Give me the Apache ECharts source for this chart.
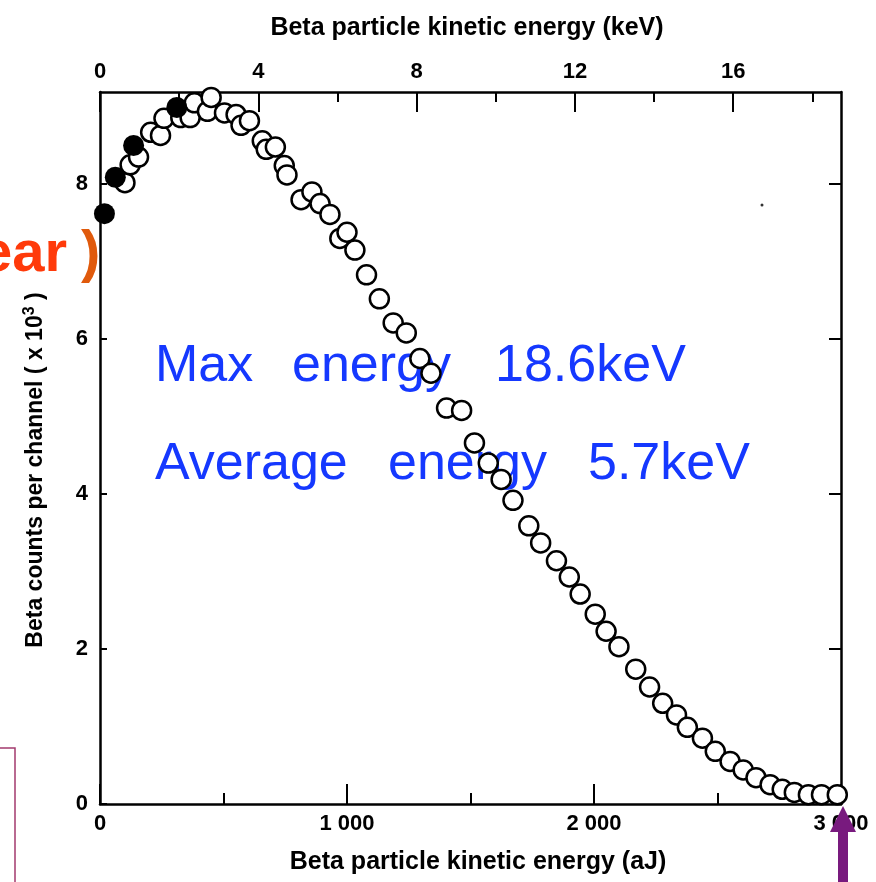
<!DOCTYPE html>
<html>
<head>
<meta charset="utf-8">
<title>Beta spectrum</title>
<script src="https://cdn.jsdelivr.net/npm/echarts@6/dist/echarts.min.js"></script>
<style>
  html, body { margin: 0; padding: 0; background: #fff; }
  #chart { width: 876px; height: 882px; }
</style>
</head>
<body>
<div id="chart"></div>
<script>
// open circles: energy (aJ) / counts per channel (x10^3)
const openEnergy = [101, 122, 156, 205, 245, 259, 327, 365, 382, 435, 450, 504, 551, 571, 605,
  657, 673, 710, 746, 757, 814, 858, 891, 931, 971, 1000, 1032, 1079, 1131, 1187,
  1240, 1295, 1340, 1403, 1464, 1516, 1572, 1624, 1672, 1736, 1784, 1848, 1900, 1944,
  2005, 2049, 2101, 2169, 2225, 2278, 2334, 2378, 2439, 2491, 2551, 2604, 2656, 2713,
  2762, 2811, 2868, 2921, 2985];
const openCounts = [8.02, 8.25, 8.35, 8.67, 8.63, 8.85, 8.86, 8.86, 9.05, 8.94, 9.12, 8.92, 8.90, 8.76, 8.82,
  8.56, 8.45, 8.48, 8.24, 8.12, 7.80, 7.90, 7.75, 7.61, 7.30, 7.38, 7.15, 6.83, 6.52, 6.21,
  6.08, 5.75, 5.56, 5.11, 5.08, 4.66, 4.40, 4.19, 3.92, 3.59, 3.37, 3.14, 2.93, 2.71,
  2.45, 2.23, 2.03, 1.74, 1.51, 1.30, 1.15, 0.99, 0.85, 0.68, 0.55, 0.44, 0.34, 0.25,
  0.19, 0.15, 0.12, 0.12, 0.12];
// filled circles
const solidEnergy = [18, 62, 136, 311];
const solidCounts = [7.62, 8.09, 8.50, 8.99];

const countTicks = [0, 2, 4, 6, 8];
const keVTicks = [0, 4, 8, 12, 16];
const keVMinorTicks = [2, 6, 10, 14, 18];
const AJ_PER_KEV = 160.218;

const font = 'Liberation Sans';
const lineStyle = { color: '#000', width: 2.5 };
const tickStyle = { color: '#000', width: 2 };

function pairs(xs, ys) {
  return xs.map((x, i) => [x, ys[i]]);
}

const chart = echarts.init(document.getElementById('chart'));

const option = {
  animation: false,
  backgroundColor: '#fff',
  grid: { left: 100, right: 35, top: 92, bottom: 78 },
  xAxis: [
    {
      // bottom: aJ
      type: 'value',
      position: 'bottom',
      min: 0,
      max: 3000,
      interval: 1000,
      axisLine: { show: true, onZero: false, lineStyle: lineStyle },
      axisTick: { show: true, inside: true, length: 20, lineStyle: tickStyle },
      minorTick: { show: true, splitNumber: 2, length: 11, lineStyle: tickStyle },
      splitLine: { show: false },
      axisLabel: {
        margin: 9,
        color: '#000',
        fontFamily: font,
        fontWeight: 'bold',
        fontSize: 22,
        formatter: v => (v === 0 ? '0' : v / 1000 + ' 000'),
      },
    },
    {
      // top: keV, major ticks
      type: 'value',
      position: 'top',
      min: 0,
      max: 3000 / AJ_PER_KEV,
      axisLine: { show: true, onZero: false, lineStyle: lineStyle },
      axisTick: { show: true, inside: true, length: 20, customValues: keVTicks, lineStyle: tickStyle },
      splitLine: { show: false },
      axisLabel: {
        customValues: keVTicks,
        margin: 9,
        color: '#000',
        fontFamily: font,
        fontWeight: 'bold',
        fontSize: 22,
        formatter: v => String(Math.round(v)),
      },
    },
    {
      // top: keV, minor ticks
      type: 'value',
      position: 'top',
      min: 0,
      max: 3000 / AJ_PER_KEV,
      axisLine: { show: false, onZero: false },
      axisTick: { show: true, inside: true, length: 10, customValues: keVMinorTicks, lineStyle: tickStyle },
      splitLine: { show: false },
      axisLabel: { show: false },
    },
  ],
  yAxis: [
    {
      type: 'value',
      position: 'left',
      min: 0,
      max: 9.19,
      axisLine: { show: true, onZero: false, lineStyle: lineStyle },
      axisTick: { show: true, inside: true, length: 7, customValues: countTicks, lineStyle: tickStyle },
      splitLine: { show: false },
      axisLabel: {
        customValues: countTicks,
        margin: 12,
        color: '#000',
        fontFamily: font,
        fontWeight: 'bold',
        fontSize: 22,
      },
    },
    {
      type: 'value',
      position: 'right',
      min: 0,
      max: 9.19,
      axisLine: { show: true, onZero: false, lineStyle: lineStyle },
      axisTick: { show: true, inside: true, length: 12, customValues: [2, 4, 6, 8], lineStyle: tickStyle },
      splitLine: { show: false },
      axisLabel: { show: false },
    },
  ],
  series: [
    {
      name: 'open',
      type: 'scatter',
      xAxisIndex: 0,
      yAxisIndex: 0,
      symbol: 'circle',
      symbolSize: 19,
      itemStyle: { color: '#fff', borderColor: '#000', borderWidth: 2.5, opacity: 1 },
      data: pairs(openEnergy, openCounts),
      z: 3,
    },
    {
      name: 'solid',
      type: 'scatter',
      xAxisIndex: 0,
      yAxisIndex: 0,
      symbol: 'circle',
      symbolSize: 21,
      itemStyle: { color: '#000', opacity: 1 },
      data: pairs(solidEnergy, solidCounts),
      z: 4,
    },
  ],
  graphic: [
    {
      type: 'text',
      x: 467,
      y: 28,
      style: {
        text: 'Beta particle kinetic energy (keV)',
        font: 'bold 25px "Liberation Sans"',
        fill: '#000',
        textAlign: 'center',
        textVerticalAlign: 'middle',
      },
    },
    {
      type: 'text',
      x: 478,
      y: 862,
      style: {
        text: 'Beta particle kinetic energy (aJ)',
        font: 'bold 25px "Liberation Sans"',
        fill: '#000',
        textAlign: 'center',
        textVerticalAlign: 'middle',
      },
    },
    {
      type: 'text',
      x: 36,
      y: 470,
      rotation: Math.PI / 2,
      style: {
        text: 'Beta counts per channel ( x 10{sup|3} )',
        font: 'bold 23px "Liberation Sans"',
        fill: '#000',
        textAlign: 'center',
        textVerticalAlign: 'middle',
        rich: {
          sup: { fontSize: 16, fontWeight: 'bold', fontFamily: font, verticalAlign: 'bottom', padding: [0, 0, 12, 0] },
        },
      },
    },
    // blue notes
    { type: 'text', x: 155, y: 367, style: { text: 'Max', font: '52px "Liberation Sans"', fill: '#1538ff', textVerticalAlign: 'middle' } },
    { type: 'text', x: 292, y: 367, style: { text: 'energy', font: '52px "Liberation Sans"', fill: '#1538ff', textVerticalAlign: 'middle' } },
    { type: 'text', x: 495, y: 367, style: { text: '18.6keV', font: '52px "Liberation Sans"', fill: '#1538ff', textVerticalAlign: 'middle' } },
    { type: 'text', x: 155, y: 465, style: { text: 'Average', font: '52px "Liberation Sans"', fill: '#1538ff', textVerticalAlign: 'middle' } },
    { type: 'text', x: 388, y: 465, style: { text: 'energy', font: '52px "Liberation Sans"', fill: '#1538ff', textVerticalAlign: 'middle' } },
    { type: 'text', x: 588, y: 465, style: { text: '5.7keV', font: '52px "Liberation Sans"', fill: '#1538ff', textVerticalAlign: 'middle' } },
    // clipped orange note at left edge
    { type: 'text', x: 67, y: 255, style: { text: 'ear', font: 'bold 58px "Liberation Sans"', fill: '#ff3a0a', textAlign: 'right', textVerticalAlign: 'middle' } },
    { type: 'text', x: 81, y: 255, style: { text: ')', font: 'bold 58px "Liberation Sans"', fill: '#e05a0c', textAlign: 'left', textVerticalAlign: 'middle' } },
    // box edge bottom-left
    {
      type: 'polyline',
      shape: { points: [[-2, 748], [15, 748], [15, 884]] },
      style: { stroke: '#a23a6e', lineWidth: 1.5, fill: null },
    },
    // purple arrow at max energy
    {
      type: 'polygon',
      shape: { points: [[843, 806], [830, 832], [838, 832], [838, 884], [848, 884], [848, 832], [856, 832]] },
      style: { fill: '#781a7e' },
      z: 10,
    },
    // speck
    { type: 'circle', shape: { cx: 762, cy: 205, r: 1.5 }, style: { fill: '#333' } },
  ],
};

chart.setOption(option);
</script>
</body>
</html>
